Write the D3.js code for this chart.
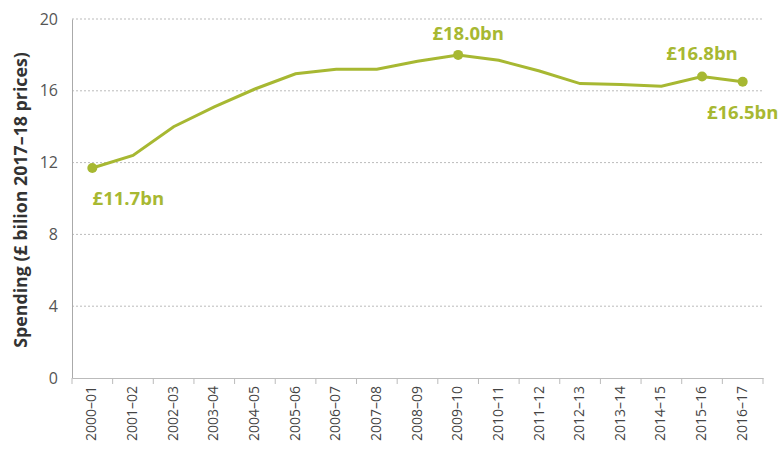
<!DOCTYPE html>
<html><head><meta charset="utf-8">
<script src="https://cdn.jsdelivr.net/npm/d3@7"></script>
<style>body{margin:0;background:#fff;} svg{display:block;font-family:"Open Sans",sans-serif;}</style>
</head><body><svg id="c" width="782" height="450"></svg>
<script>
const years = ["2000–01","2001–02","2002–03","2003–04","2004–05","2005–06","2006–07","2007–08","2008–09","2009–10","2010–11","2011–12","2012–13","2013–14","2014–15","2015–16","2016–17"];
const spending = [11.7,12.4,14.0,15.1,16.1,16.95,17.2,17.2,17.65,18.0,17.7,17.1,16.4,16.35,16.25,16.8,16.5];
const yTicks = [0,4,8,12,16,20];
const annotations = [
  {i:0, text:"£11.7bn", dx:36, dy:37},
  {i:9, text:"£18.0bn", dx:10, dy:-15},
  {i:15, text:"£16.8bn", dx:0, dy:-16},
  {i:16, text:"£16.5bn", dx:0, dy:37}
];
const col = "#a7b832";
const svg = d3.select("#c");
const m = {l:72, r:19, t:19, b:72};
const W = 782, H = 450;
const x = d3.scaleBand().domain(years).range([m.l, W-m.r]);
const y = d3.scaleLinear().domain([0,20]).range([H-m.b, m.t]);

// grid
svg.append("g").selectAll("line").data(yTicks.filter(d=>d>0)).join("line")
  .attr("x1", m.l).attr("x2", W-m.r).attr("y1", d=>y(d)).attr("y2", d=>y(d))
  .attr("stroke","#bbb").attr("stroke-width",1).attr("stroke-dasharray","2,2");

// y axis
const ya = svg.append("g").attr("transform",`translate(${m.l},0)`)
  .call(d3.axisLeft(y).tickValues(yTicks).tickSize(0).tickPadding(14));
ya.select(".domain").attr("stroke","#aaa");
ya.selectAll("text").attr("fill","#555").attr("font-size",16).attr("font-family","Open Sans");

// x axis
const xa = svg.append("g").attr("transform",`translate(0,${y(0)})`)
  .call(d3.axisBottom(x).tickSize(0));
xa.select(".domain").attr("stroke","#bbb");
xa.selectAll(".tick text").attr("fill","#444").attr("font-size",14).attr("font-family","Open Sans")
  .attr("transform","rotate(-90)").attr("text-anchor","end").attr("dx","-8").attr("dy","-0.1em").attr("y",0).attr("x",0)
  .style("dominant-baseline","central");
// boundary ticks
const bounds = years.map(d=>x(d)).concat([x(years[years.length-1])+x.bandwidth()]);
xa.append("g").selectAll("line").data(bounds).join("line")
  .attr("x1",d=>d).attr("x2",d=>d).attr("y1",0).attr("y2",6).attr("stroke","#bbb");

// y title
svg.append("text").attr("transform",`translate(27,200) rotate(-90)`)
  .attr("text-anchor","middle").attr("font-weight","bold").attr("font-size",17.8).attr("fill","#333")
  .text("Spending (£ bilion 2017–18 prices)");

// line
const cx = (d,i)=>x(years[i])+x.bandwidth()/2;
svg.append("path").datum(spending)
  .attr("d", d3.line().x((d,i)=>cx(d,i)).y(d=>y(d)))
  .attr("fill","none").attr("stroke",col).attr("stroke-width",3);

svg.append("g").selectAll("circle").data(annotations).join("circle")
  .attr("cx",a=>cx(0,a.i)).attr("cy",a=>y(spending[a.i])).attr("r",5).attr("fill",col);

svg.append("g").selectAll("text").data(annotations).join("text")
  .attr("x",a=>cx(0,a.i)+a.dx).attr("y",a=>y(spending[a.i])+a.dy)
  .attr("text-anchor","middle").attr("font-weight","bold").attr("font-size",18.5).attr("fill",col)
  .text(a=>a.text);
</script></body></html>
